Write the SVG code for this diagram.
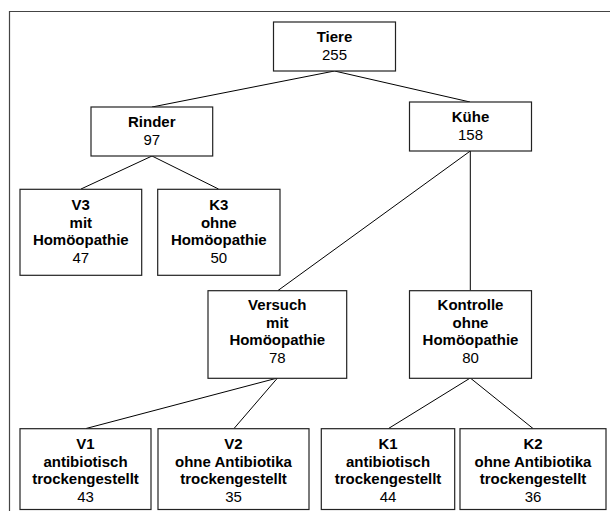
<svg xmlns="http://www.w3.org/2000/svg" width="610" height="511" viewBox="0 0 610 511">
<style>
.box{fill:#fff;stroke:#222;stroke-width:1.2}
.frame{fill:none;stroke:#444;stroke-width:1.2}
.conn line{stroke:#000;stroke-width:1}
text{font-family:"Liberation Sans",Arial,sans-serif;font-size:15px;text-anchor:middle;fill:#000}
.b{font-weight:bold}
</style>
<rect width="610" height="511" fill="#fff"/>
<path class="frame" d="M9.5,511 V11.5 H610"/>
<g class="conn">
<line x1="334.5" y1="71" x2="152" y2="107"/>
<line x1="334.5" y1="71" x2="470" y2="102"/>
<line x1="152" y1="156" x2="81" y2="189"/>
<line x1="152" y1="156" x2="218.5" y2="189"/>
<line x1="470.3" y1="151" x2="278" y2="290.5"/>
<line x1="470.3" y1="151" x2="470.3" y2="290.5"/>
<line x1="277.5" y1="378" x2="86" y2="428.5"/>
<line x1="277.5" y1="378" x2="234" y2="428.5"/>
<line x1="470.3" y1="378" x2="388.5" y2="428.5"/>
<line x1="470.3" y1="378" x2="533" y2="428.5"/>
</g>
<g id="tiere">
<rect class="box" x="273.5" y="22" width="122" height="49"/>
<text x="334.5" y="41.7" class="b">Tiere</text>
<text x="334.5" y="60">255</text>
</g>
<g id="rinder">
<rect class="box" x="91" y="107" width="121.7" height="49"/>
<text x="151.8" y="126.7" class="b">Rinder</text>
<text x="151.8" y="145">97</text>
</g>
<g id="kuehe">
<rect class="box" x="409.5" y="102" width="122" height="49"/>
<text x="470.5" y="121.7" class="b">Kühe</text>
<text x="470.5" y="140">158</text>
</g>
<g id="v3">
<rect class="box" x="20" y="189.3" width="121.7" height="86"/>
<text x="80.8" y="210" class="b">V3</text>
<text x="80.8" y="227.5" class="b">mit</text>
<text x="80.8" y="245" class="b">Homöopathie</text>
<text x="80.8" y="262.7">47</text>
</g>
<g id="k3">
<rect class="box" x="157.7" y="189.3" width="122.3" height="86"/>
<text x="218.8" y="210" class="b">K3</text>
<text x="218.8" y="227.5" class="b">ohne</text>
<text x="218.8" y="245" class="b">Homöopathie</text>
<text x="218.8" y="262.7">50</text>
</g>
<g id="versuch">
<rect class="box" x="208" y="290.7" width="138.7" height="87.6"/>
<text x="277.3" y="310" class="b">Versuch</text>
<text x="277.3" y="327.5" class="b">mit</text>
<text x="277.3" y="345" class="b">Homöopathie</text>
<text x="277.3" y="362.7">78</text>
</g>
<g id="kontrolle">
<rect class="box" x="409.5" y="290.7" width="122" height="87.6"/>
<text x="470.5" y="310" class="b">Kontrolle</text>
<text x="470.5" y="327.5" class="b">ohne</text>
<text x="470.5" y="345" class="b">Homöopathie</text>
<text x="470.5" y="362.7">80</text>
</g>
<g id="v1">
<rect class="box" x="20" y="428.7" width="131" height="80.8"/>
<text x="85.5" y="449.3" class="b">V1</text>
<text x="85.5" y="466.7" class="b">antibiotisch</text>
<text x="85.5" y="484" class="b">trockengestellt</text>
<text x="85.5" y="501.7">43</text>
</g>
<g id="v2">
<rect class="box" x="158" y="428.7" width="151" height="80.8"/>
<text x="233.5" y="449.3" class="b">V2</text>
<text x="233.5" y="466.7" class="b">ohne Antibiotika</text>
<text x="233.5" y="484" class="b">trockengestellt</text>
<text x="233.5" y="501.7">35</text>
</g>
<g id="k1">
<rect class="box" x="321.3" y="428.7" width="133.4" height="80.8"/>
<text x="388" y="449.3" class="b">K1</text>
<text x="388" y="466.7" class="b">antibiotisch</text>
<text x="388" y="484" class="b">trockengestellt</text>
<text x="388" y="501.7">44</text>
</g>
<g id="k2">
<rect class="box" x="460" y="428.7" width="146" height="80.8"/>
<text x="533" y="449.3" class="b">K2</text>
<text x="533" y="466.7" class="b">ohne Antibiotika</text>
<text x="533" y="484" class="b">trockengestellt</text>
<text x="533" y="501.7">36</text>
</g>
</svg>
